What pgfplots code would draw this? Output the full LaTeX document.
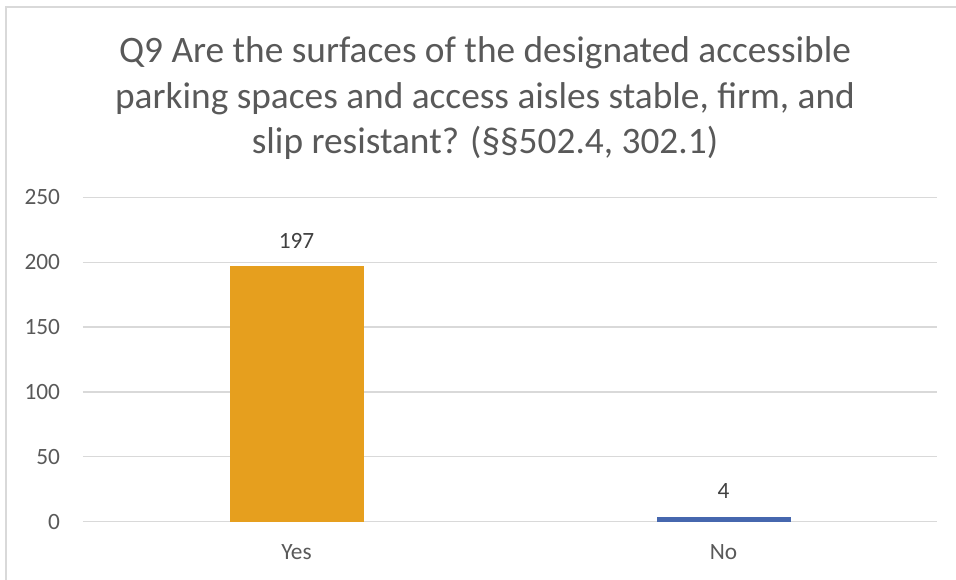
\documentclass[border=0pt]{standalone}
\usepackage{pgfplots}
\pgfplotsset{compat=1.18}
\usepackage{fontspec}
\setmainfont{Carlito}
\definecolor{txt}{HTML}{595959}
\definecolor{lbl}{HTML}{404040}
\definecolor{gridc}{HTML}{D9D9D9}
\definecolor{yesc}{HTML}{E69F1E}
\definecolor{noc}{HTML}{4667AE}
\begin{document}
\begin{tikzpicture}
\useasboundingbox (0,0) rectangle (717pt,435pt);
\draw[gridc, line width=1.2pt] (4.5pt,-10pt) -- (4.5pt,429.75pt) -- (730pt,429.75pt);
\begin{scope}[every node/.style={text=txt, font=\fontsize{28}{34}\selectfont, inner sep=0pt, anchor=base}]
\node at (363.75pt,387.75pt) {Q9 Are the surfaces of the designated accessible};
\node at (363.75pt,353.6pt) {parking spaces and access aisles stable, firm, and};
\node at (363.75pt,319.5pt) {slip resistant? (§§502.4, 302.1)};
\end{scope}
\begin{axis}[
  at={(62.25pt,43.7pt)}, anchor=south west,
  scale only axis, width=640.5pt, height=243.3pt,
  xmin=-0.5, xmax=1.5, ymin=0, ymax=250,
  xtick={0,1}, xticklabels={Yes,No},
  ytick={0,50,100,150,200,250},
  axis line style={draw=none},
  major tick length=0pt,
  ymajorgrids, grid style={gridc, line width=0.9pt},
  tick label style={text=txt, font=\fontsize{17.5}{21}\selectfont},
  /pgf/number format/assume math mode=true,
  yticklabel style={anchor=east, inner sep=0pt, xshift=-17pt},
  xticklabel style={anchor=base, inner sep=0pt, yshift=-28.5pt},
  ybar, bar width=100.5pt, bar shift=0pt,
  nodes near coords,
  every node near coord/.append style={text=lbl, font=\fontsize{17.5}{21}\selectfont, anchor=base, inner sep=0pt, yshift=13.5pt},
  clip=false,
]
\addplot[fill=yesc, draw=none] coordinates {(0,197)};
\addplot[fill=noc, draw=none] coordinates {(1,4)};
\end{axis}
\end{tikzpicture}
\end{document}
